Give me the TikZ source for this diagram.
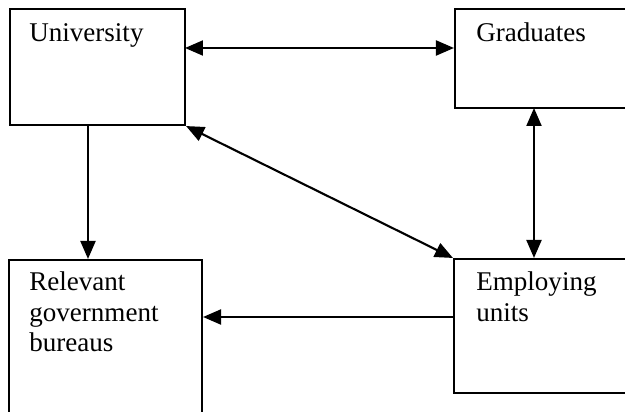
\documentclass[tikz,border=0pt]{standalone}
\usepackage{fontspec}
\setmainfont{Liberation Serif}
\usepackage{tikz}
\usetikzlibrary{arrows.meta}

\tikzset{
  unit box/.style={draw, line width=1.2pt, inner sep=0pt},
  unit text/.style={anchor=base west, align=left, inner sep=0pt,
    font=\fontsize{15.4}{17.4}\selectfont},
  link/.style={line width=1.2pt, {Triangle[length=0.36cm, width=0.3cm]}-{Triangle[length=0.36cm, width=0.3cm]}},
  one way/.style={line width=1.2pt, -{Triangle[length=0.36cm, width=0.3cm]}}
}

\begin{document}
\begin{tikzpicture}[x=0.02cm, y=-0.02cm]
  \useasboundingbox (0,0) rectangle (625,412);
  \clip (0,0) rectangle (625,412);

  \node[unit box, minimum width=3.5cm, minimum height=2.32cm] (uni) at (97.5,67) {};
  \node[unit box, minimum width=3.7cm, minimum height=1.98cm] (grad) at (547.5,58.5) {};
  \node[unit box, minimum width=3.86cm, minimum height=3.2cm] (bur) at (105.5,340) {};
  \node[unit box, minimum width=3.72cm, minimum height=2.68cm] (emp) at (547,326) {};

  % base of a multi-line text is its last line
  \node[unit text] (unitxt) at ([xshift=0.4cm, yshift=-0.68cm]uni.north west) {University};
  \node[unit text] (gradtxt) at ([xshift=0.44cm, yshift=-0.68cm]grad.north west) {Graduates};
  \node[unit text] (burtxt) at ([xshift=0.42cm, yshift=-1.86cm]bur.north west) {Relevant\\government\\bureaus};
  \node[unit text] (emptxt) at ([xshift=0.46cm, yshift=-1.27cm]emp.north west) {Employing\\units};

  \coordinate (ug) at (185,48);
  \coordinate (ub) at (88,125);
  \coordinate (ge) at (534,108);
  \coordinate (eb) at (454,317);

  \draw[link] (ug) -- (ug -| grad.west);
  \draw[link] (uni.south east) -- (emp.north west);
  \draw[one way] (ub) -- (ub |- bur.north);
  \draw[link] (ge) -- (ge |- emp.north);
  \draw[one way] (eb) -- (eb -| bur.east);
\end{tikzpicture}
\end{document}
